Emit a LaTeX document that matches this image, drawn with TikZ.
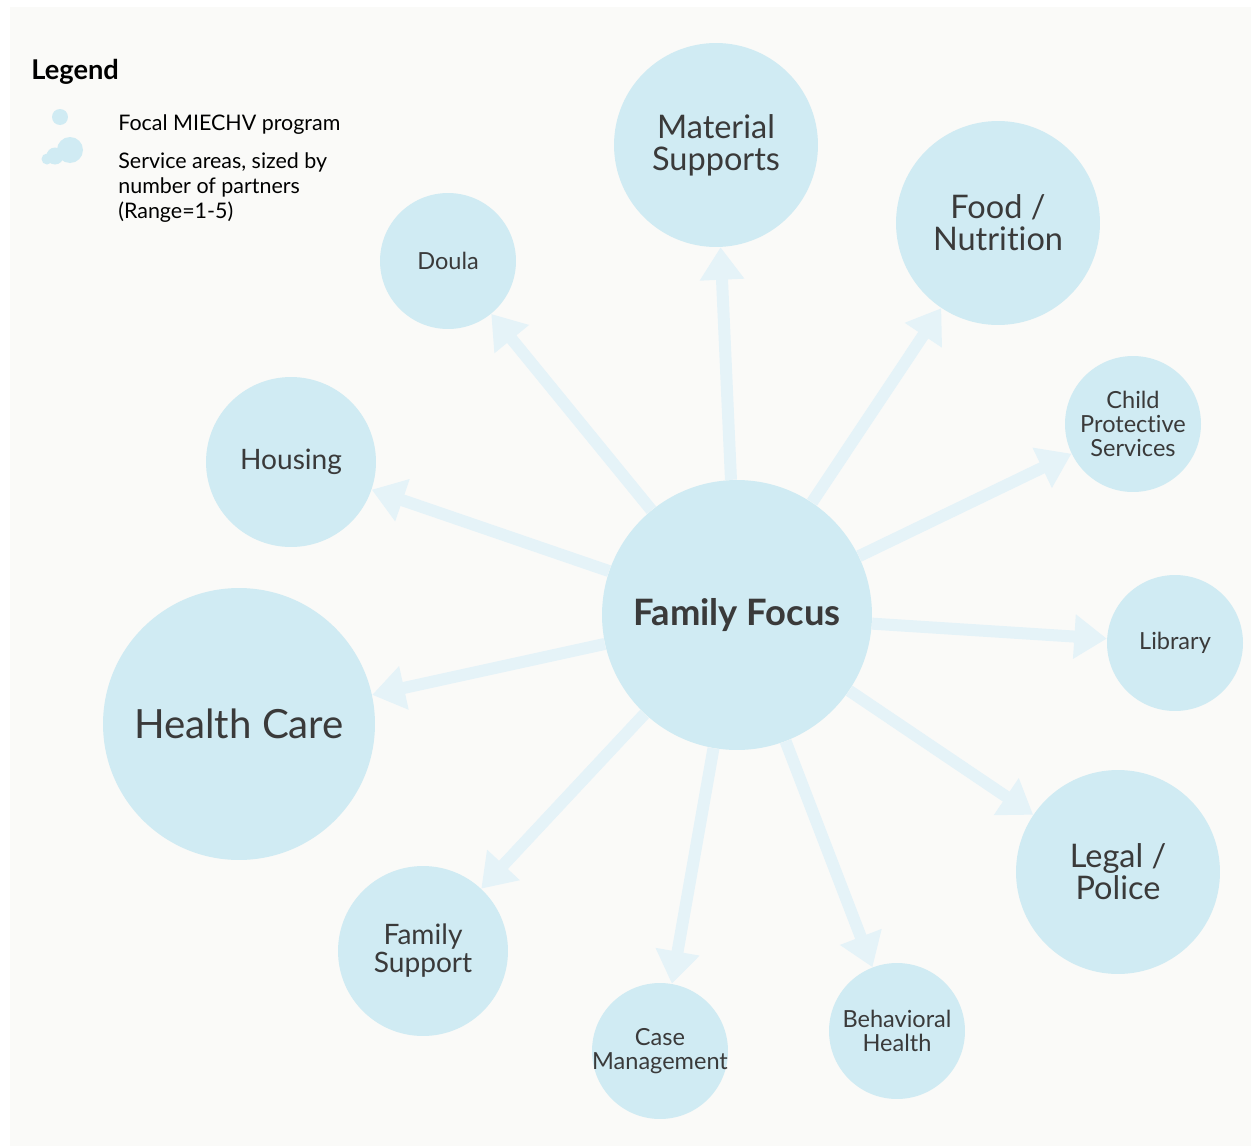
\documentclass[tikz,border=0pt]{standalone}
\usepackage{fontspec}
\setmainfont{Lato}[Ligatures=NoCommon]
\usepackage{xcolor}
\usetikzlibrary{positioning,arrows.meta}

\definecolor{paper}{HTML}{FAFAF8}
\definecolor{bubble}{HTML}{D0EBF3}
\definecolor{spoke}{HTML}{E5F3F8}
\definecolor{ink}{HTML}{3A3A3A}

\begin{document}
\begin{tikzpicture}
[
x=0.02cm, y=-0.02cm,
area/.style={circle, fill=bubble, inner sep=0pt, align=center, text=ink},
area-1/.style={area, minimum size=2.72cm, font=\fontsize{13.4}{13.5}\selectfont},
area-2/.style={area, minimum size=3.40cm, font=\fontsize{16}{15.9}\selectfont},
area-3/.style={area, minimum size=4.08cm, font=\fontsize{18.5}{18.2}\selectfont},
area-5/.style={area, minimum size=5.44cm, font=\fontsize{22.9}{24}\selectfont},
focal/.style={area, minimum size=5.40cm, font=\fontsize{20.7}{22}\selectfont\bfseries},
spoke-a/.style={draw=spoke, line width=0.24cm, -{Triangle[width=0.85cm, length=0.65cm]}},
text-a/.style={black, align=left, anchor=west, inner sep=0pt, font=\fontsize{12.2}{14.2}\selectfont}
]
% page and paper
\useasboundingbox (0,0) rectangle (1251,1146);
\fill[white] (0,0) rectangle (1251,1146);
\fill[paper] (10,7) rectangle (1251,1146);

% focal program and its service areas
\node (focus)     [focal ] at (737, 615) {Family Focus};
\node (material)  [area-3] at (716, 145) {Material\\Supports};
\node (food)      [area-3] at (998, 223) {Food /\\Nutrition};
\node (doula)     [area-1] at (448, 261) {Doula};
\node (housing)   [area-2] at (291, 462) {Housing};
\node (health)    [area-5] at (239, 724) {Health Care};
\node (cps)       [area-1] at (1133,424) {Child\\Protective\\Services};
\node (library)   [area-1] at (1175,643) {Library};
\node (legal)     [area-3] at (1118,872) {Legal /\\Police};
\node (behav)     [area-1] at (897,1031) {Behavioral\\Health};
\node (case)      [area-1] at (660,1051) {Case\\\makebox[0pt]{Management}};
\node (famsup)    [area-2] at (423, 951) {Family\\Support};

% spokes out of the focal program
\foreach \to in {material,food,doula,housing,health,cps,library,legal,behav,case,famsup}
  \draw[spoke-a] (focus) -- (\to);

% legend
\node (legend)     [text-a, font=\fontsize{15.5}{17}\selectfont\bfseries] at (31,72) {Legend};
\node (dot-focal)  [circle, fill=bubble, inner sep=0pt, minimum size=0.32cm] at (60,117) {};
\fill[bubble] (70,150) circle (13) (55,156) circle (8.5) (47,159) circle (5.5);
\coordinate (dot-area) at (62,152);
\node (lab-focal)  [text-a] at (118,125) {Focal MIECHV program};
\node (lab-area)   [text-a, anchor=north west] at (118,152) {Service areas, sized by\\number of partners\\(Range=1-5)};
\end{tikzpicture}
\end{document}
